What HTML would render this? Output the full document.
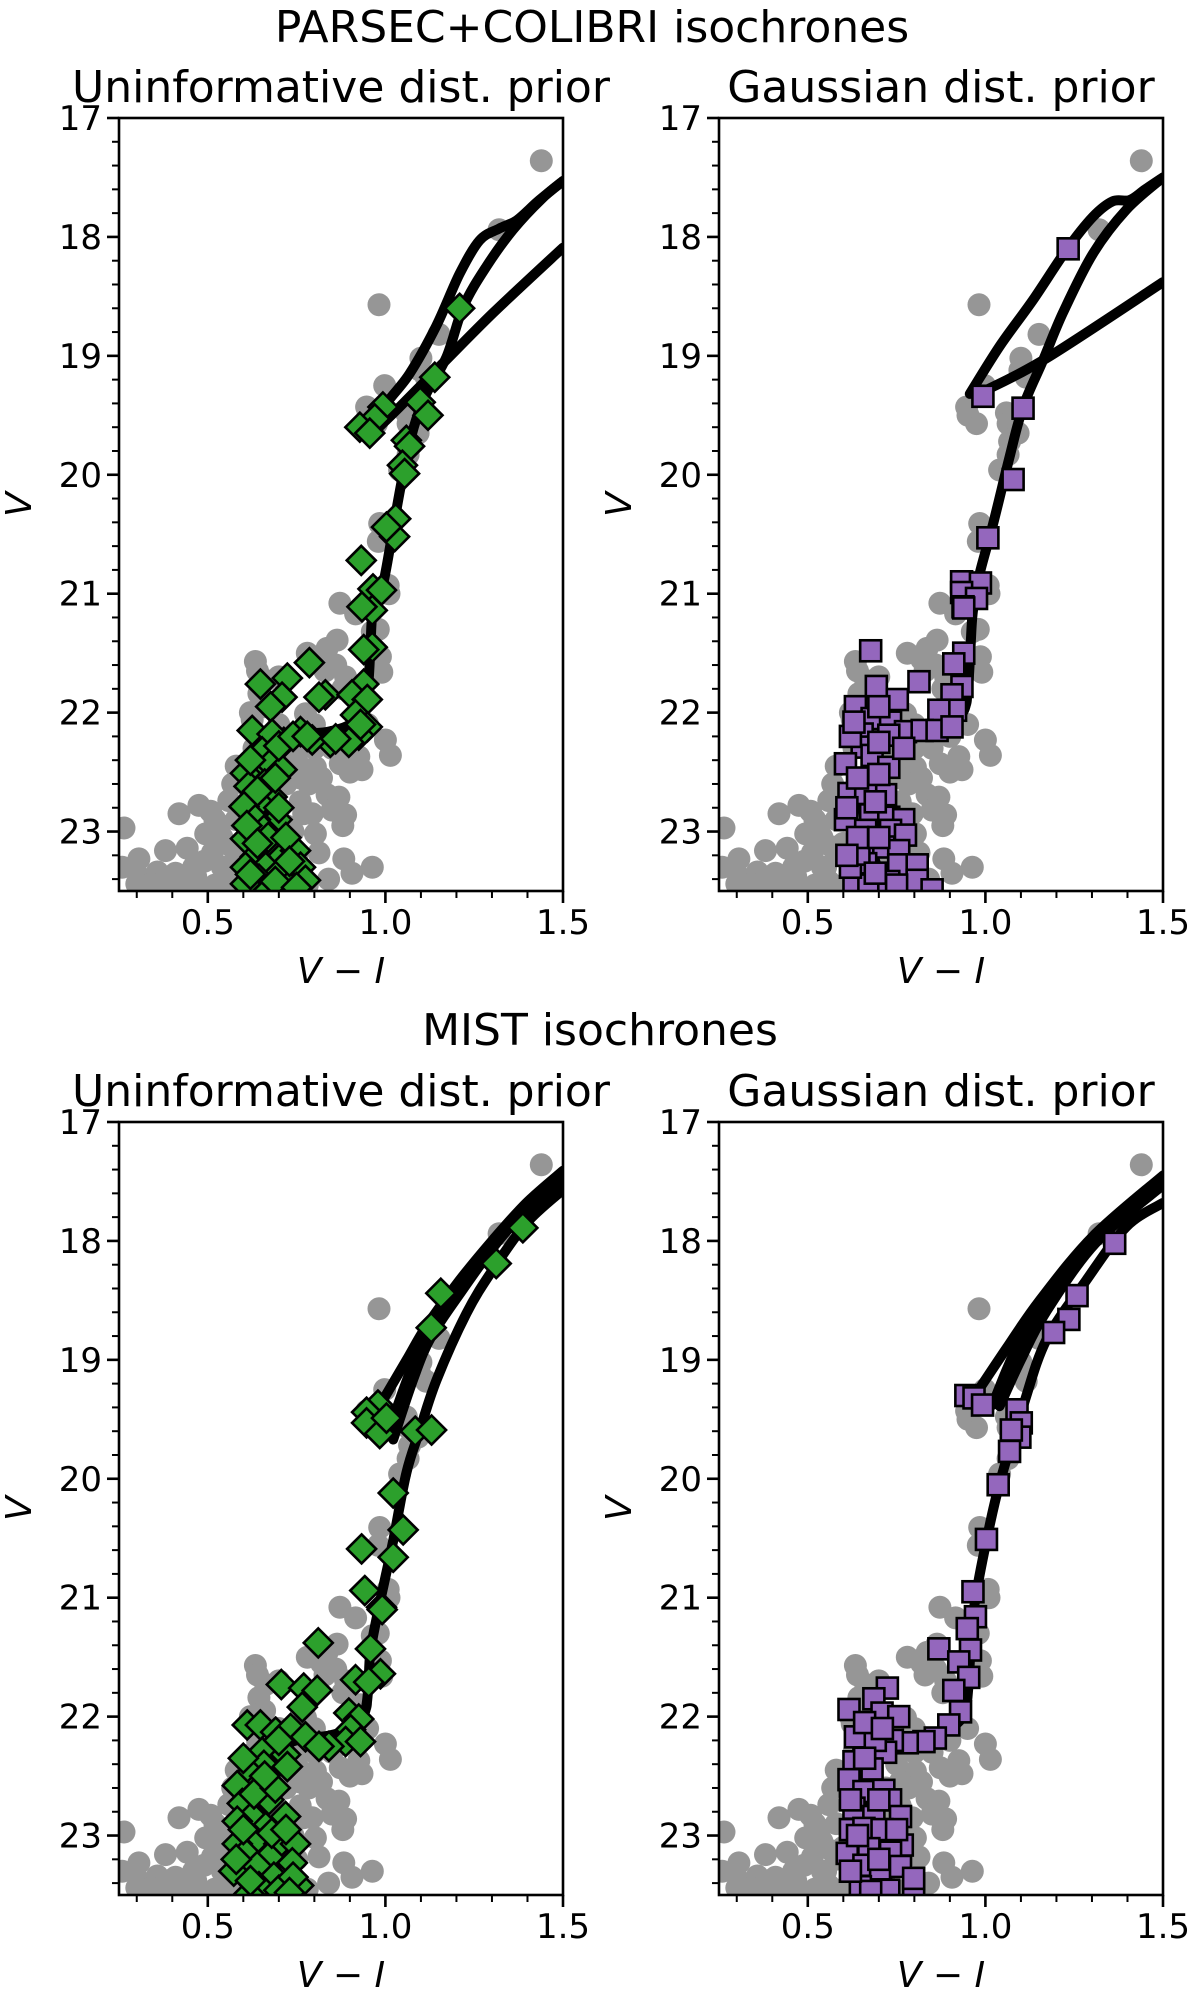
<!DOCTYPE html>
<html><head><meta charset="utf-8">
<style>
html,body{margin:0;padding:0;background:#fff;}
svg{display:block;font-family:"DejaVu Sans","Liberation Sans",sans-serif;}
</style></head>
<body>
<svg id="fig" width="1200" height="2005" viewBox="0 0 1200 2005" xmlns="http://www.w3.org/2000/svg">
<rect x="0" y="0" width="1200" height="2005" fill="#fff"/>
<text x="592" y="42" font-size="44" text-anchor="middle">PARSEC+COLIBRI isochrones</text>
<text x="600" y="1045" font-size="44" text-anchor="middle">MIST isochrones</text>
</svg>
<script>
// ---------- data ----------
const xTicks = [0.5, 1.0, 1.5];
const xTickLabels = ["0.5", "1.0", "1.5"];
const yTicks = [17, 18, 19, 20, 21, 22, 23];
const yTickLabels = ["17", "18", "19", "20", "21", "22", "23"];

const grayStars = [
 [1.439,17.36],[1.320,17.94],[0.982,18.57],[1.151,18.82],[1.10,19.02],[1.097,19.12],[1.115,19.18],[0.998,19.25],
 [0.951,19.50],[0.975,19.57],[0.947,19.43],[1.059,19.48],[1.064,19.57],[1.092,19.65],[1.068,19.72],[1.064,19.83],
 [1.04,19.96],[0.984,20.41],[0.98,20.56],[1.008,20.93],[0.872,21.08],[0.916,21.17],[0.864,21.39],[0.836,21.46],
 [0.963,21.32],[0.986,21.53],[0.634,21.57],[0.888,21.70],[0.663,21.73],[0.99,21.66],[0.644,21.84],[0.775,22.01],
 [0.625,22.06],[1.0,22.23],[1.014,22.36],[0.925,22.37],[0.873,22.43],[0.934,22.48],[0.803,22.46],[0.784,22.60],
 [0.836,22.69],[0.869,22.71],[0.888,22.86],[0.85,22.82],[0.559,22.74],[0.475,22.78],[0.419,22.85],[0.508,22.83],
 [0.494,23.02],[0.531,22.99],[0.513,23.18],[0.569,23.13],[0.264,22.97],[0.381,23.16],[0.442,23.14],[0.306,23.23],
 [0.259,23.30],[0.358,23.34],[0.306,23.38],[0.409,23.35],[0.466,23.38],[0.541,23.30],[0.559,23.42],[0.803,23.02],
 [0.813,23.18],[0.794,22.85],[0.883,23.23],[0.963,23.30],[0.906,23.35],[0.372,23.47],[0.484,23.47],[0.62,22.0],
 [0.66,21.95],[0.70,22.1],[0.63,22.3],[0.68,22.5],[0.72,22.6],[0.75,22.4],[0.62,22.7],[0.58,22.9],[0.70,22.8],
 [0.76,22.75],[0.60,23.1],[0.66,23.2],[0.72,23.3],[0.68,23.4],[0.78,23.45],[0.55,23.3],[0.52,23.45],[0.43,23.45],
 [0.40,23.42],[0.30,23.44],[0.60,23.45],[0.72,22.95],[0.74,23.0],[0.80,22.3],[0.85,22.3],[0.90,22.2],[0.95,22.1],
 [0.93,21.9],[0.88,21.8],[0.83,21.65],[0.78,21.5],[0.98,21.3],[1.01,21.0],[0.64,22.2],[0.57,22.6],[0.70,21.7],
 [0.74,22.3],[0.76,22.55],[0.54,23.05],[0.49,23.25],[0.62,23.3],[0.58,23.2],[0.82,21.55],[0.86,21.6],[0.80,22.1],
 [0.77,22.85],[0.75,23.2],[0.68,22.65],[0.52,22.9],[0.46,23.3],[0.34,23.44],[0.58,22.45],[0.82,22.55],[0.9,22.5],
 [0.88,22.95],[0.84,23.4],[0.7,23.1],[0.64,21.65]
];

const lowerTrack = [[0.958,21.45],[0.952,21.75],[0.94,21.98],[0.90,22.1],[0.84,22.16],[0.78,22.18],[0.73,22.22],
 [0.69,22.32],[0.665,22.5],[0.655,22.75],[0.665,23.0],[0.69,23.25],[0.72,23.55]];

const parsecUniMain = [[1.5,17.53],[1.44,17.68],[1.359,17.94],[1.284,18.25],[1.219,18.59],[1.172,19.01],[1.115,19.32],[1.08,19.6],[1.05,19.99],[1.026,20.38],[0.994,20.91],[0.965,21.14]];
const parsecUniLoop = [[0.956,19.65],[1.003,19.4],[1.068,19.15],[1.143,18.75],[1.209,18.31],[1.265,18.03],[1.32,17.93],[1.37,17.86],[1.43,17.7],[1.5,17.53]];
const parsecUniBranch = [[0.975,19.62],[1.04,19.43],[1.153,19.09],[1.303,18.64],[1.5,18.09]];

const parsecGauMain = [[1.5,17.5],[1.397,17.77],[1.303,18.14],[1.218,18.64],[1.162,19.04],[1.106,19.43],[1.068,19.85],[1.022,20.41],[0.984,20.83],[0.965,21.14]];
const parsecGauLoop = [[0.956,19.32],[1.04,18.92],[1.134,18.53],[1.228,18.11],[1.303,17.83],[1.359,17.70],[1.406,17.69],[1.45,17.6],[1.5,17.5]];
const parsecGauBranch = [[0.994,19.30],[1.172,19.02],[1.5,18.38]];

const mistUniMain = [[1.5,17.57],[1.397,17.85],[1.303,18.24],[1.228,18.61],[1.144,19.17],[1.097,19.59],[1.059,19.95],[1.022,20.52],[0.984,21.05]];
const mistUniA = [[0.995,19.33],[1.06,19.0],[1.115,18.72],[1.209,18.33],[1.303,17.99],[1.397,17.68],[1.5,17.41]];
const mistUniB = [[1.015,19.55],[1.07,19.1],[1.125,18.75],[1.215,18.36],[1.31,18.0],[1.4,17.7],[1.5,17.44]];
const mistUniC = [[1.022,19.67],[1.08,19.15],[1.13,18.80],[1.22,18.4],[1.31,18.03],[1.4,17.73],[1.5,17.47]];

const mistGauMain = [[1.5,17.68],[1.397,17.88],[1.284,18.33],[1.172,18.83],[1.106,19.39],[1.04,20.04],[1.003,20.52],[0.97,21.05]];
const mistGauA = [[0.975,19.28],[1.06,18.9],[1.153,18.5],[1.303,17.96],[1.5,17.45]];
const mistGauB = [[1.02,19.38],[1.08,18.95],[1.16,18.53],[1.305,17.98],[1.5,17.5]];
const mistGauC = [[1.04,19.39],[1.10,19.0],[1.17,18.6],[1.31,18.02],[1.5,17.53]];

const greenParsec = [
 [1.209,18.60],[1.139,19.18],[1.098,19.39],[1.12,19.50],[0.993,19.43],[0.97,19.53],[0.928,19.60],[0.956,19.65],
 [1.059,19.71],[1.068,19.76],[1.048,19.92],[1.054,19.99],[1.029,20.37],[1.026,20.52],[1.003,20.44],[0.932,20.72],
 [0.965,20.96],[0.989,20.97],[0.963,21.14],[0.934,21.11],[0.963,21.45],[0.939,21.47],[0.786,21.58],[0.939,21.76],
 [0.648,21.76],[0.724,21.71],[0.831,21.85],[0.813,21.87],[0.906,21.85],[0.709,21.87],[0.677,21.95],[0.949,21.89],
 [0.916,22.02],[0.949,22.12],[0.625,22.15],[0.925,22.19],[0.897,22.25],[0.845,22.25],[0.794,22.23],[0.761,22.16],
 [0.714,22.25],[0.681,22.18],[0.653,22.33],[0.634,22.46],[0.677,22.43],[0.709,22.48],[0.606,22.51],[0.616,22.62],
 [0.681,22.71],[0.644,22.76],[0.602,22.79],[0.695,22.90],[0.634,22.90],[0.658,22.99],[0.606,23.06],[0.677,23.13],
 [0.709,23.21],[0.747,23.16],[0.634,23.21],[0.663,23.30],[0.606,23.30],[0.761,23.30],[0.70,23.35],[0.644,23.40],
 [0.775,23.41],[0.728,23.46],[0.606,23.44],[0.672,23.49],[0.70,22.28],[0.74,22.2],[0.66,22.6],[0.62,22.4],
 [0.69,22.55],[0.64,22.66],[0.70,22.8],[0.61,22.95],[0.67,23.05],[0.72,23.05],[0.64,23.1],[0.73,23.25],
 [0.69,23.42],[0.75,23.47],[0.62,23.36],[0.86,22.22],[0.78,22.2],[0.93,22.1]
];
const purpleParsec = [
 [1.233,18.10],[0.993,19.34],[1.106,19.44],[1.078,20.04],[1.007,20.53],[0.933,20.90],[0.986,20.91],[0.933,20.99],
 [0.975,21.04],[0.937,21.11],[0.939,21.12],[0.939,21.50],[0.911,21.59],[0.677,21.48],[0.813,21.74],[0.934,21.78],
 [0.906,21.85],[0.693,21.78],[0.752,21.89],[0.634,21.95],[0.916,21.98],[0.869,21.98],[0.681,22.05],[0.733,22.08],
 [0.775,22.16],[0.822,22.15],[0.864,22.15],[0.906,22.12],[0.653,22.18],[0.728,22.19],[0.653,22.29],[0.606,22.43],
 [0.681,22.36],[0.728,22.46],[0.672,22.57],[0.616,22.68],[0.719,22.69],[0.663,22.68],[0.606,22.9],[0.677,22.86],
 [0.728,22.88],[0.77,22.9],[0.663,22.99],[0.733,22.99],[0.775,23.03],[0.663,23.13],[0.714,23.13],[0.756,23.16],
 [0.663,23.27],[0.756,23.28],[0.808,23.28],[0.63,23.44],[0.672,23.45],[0.728,23.42],[0.808,23.41],[0.85,23.49],
 [0.62,23.30],[0.644,23.19],[0.70,22.25],[0.62,22.2],[0.64,22.55],[0.70,22.52],[0.61,22.8],[0.69,22.75],
 [0.64,23.05],[0.70,23.05],[0.61,23.2],[0.69,23.35],[0.75,23.45],[0.63,22.08],[0.70,21.95],[0.77,22.3]
];
const greenMist = [
 [1.387,17.89],[1.312,18.19],[1.156,18.44],[1.129,18.73],[0.979,19.38],[0.947,19.44],[0.947,19.53],[0.984,19.62],
 [1.003,19.49],[1.084,19.60],[1.13,19.59],[1.022,20.12],[1.05,20.43],[0.933,20.59],[1.022,20.66],[0.942,20.94],
 [0.989,21.08],[0.991,21.10],[0.811,21.38],[0.958,21.43],[0.986,21.64],[0.916,21.69],[0.953,21.71],[0.707,21.73],
 [0.77,21.76],[0.808,21.78],[0.766,21.92],[0.897,21.97],[0.925,22.02],[0.611,22.07],[0.648,22.07],[0.691,22.13],
 [0.733,22.10],[0.775,22.17],[0.902,22.11],[0.888,22.21],[0.93,22.21],[0.841,22.25],[0.813,22.25],[0.686,22.25],
 [0.653,22.30],[0.719,22.32],[0.658,22.41],[0.724,22.42],[0.62,22.48],[0.648,22.56],[0.583,22.58],[0.672,22.70],
 [0.597,22.73],[0.719,22.84],[0.625,22.84],[0.583,22.88],[0.663,22.93],[0.634,23.04],[0.70,23.07],[0.747,23.07],
 [0.583,23.07],[0.606,23.15],[0.672,23.18],[0.738,23.23],[0.573,23.30],[0.639,23.26],[0.686,23.35],[0.756,23.42],
 [0.644,23.43],[0.616,23.49],[0.70,23.46],[0.63,22.65],[0.69,22.6],[0.60,22.95],[0.68,22.98],[0.72,22.95],
 [0.62,23.38],[0.74,23.35],[0.66,22.5],[0.70,22.2],[0.60,22.35],[0.58,23.2],[0.73,23.48]
];
const purpleMist = [
 [1.364,18.02],[1.258,18.46],[1.235,18.66],[1.192,18.77],[0.945,19.30],[0.968,19.32],[0.992,19.38],[1.089,19.42],
 [1.101,19.53],[1.097,19.65],[1.068,19.77],[1.073,19.59],[1.036,20.05],[1.003,20.51],[0.965,20.95],[0.972,21.16],
 [0.949,21.26],[0.958,21.44],[0.869,21.43],[0.925,21.54],[0.953,21.67],[0.911,21.78],[0.724,21.76],[0.686,21.85],
 [0.616,21.94],[0.709,21.97],[0.756,22.00],[0.93,21.96],[0.897,22.07],[0.859,22.18],[0.827,22.21],[0.78,22.22],
 [0.738,22.20],[0.658,22.21],[0.634,22.17],[0.719,22.30],[0.63,22.38],[0.681,22.44],[0.616,22.53],[0.658,22.63],
 [0.714,22.62],[0.733,22.70],[0.63,22.77],[0.686,22.84],[0.761,22.84],[0.62,22.95],[0.658,22.94],[0.709,22.95],
 [0.766,23.08],[0.672,23.11],[0.611,23.15],[0.733,23.14],[0.658,23.25],[0.705,23.28],[0.761,23.26],[0.648,23.43],
 [0.728,23.46],[0.798,23.42],[0.798,23.36],[0.677,23.47],[0.69,22.2],[0.66,22.35],[0.62,22.7],[0.70,22.7],
 [0.64,23.0],[0.70,23.2],[0.62,23.3],[0.75,22.95],[0.66,22.05],[0.71,22.1]
];

// ---------- drawing ----------
const NS = "http://www.w3.org/2000/svg";
const svg = document.getElementById("fig");
const PW = 444, PH = 773, X0 = 0.25, X1 = 1.5, Y0 = 17, Y1 = 23.5;

function mk(tag, attrs, parent) {
  const e = document.createElementNS(NS, tag);
  for (const k in attrs) e.setAttribute(k, attrs[k]);
  (parent || svg).appendChild(e);
  return e;
}

function smoothPath(pts) {
  if (pts.length < 2) return "";
  let d = "M" + pts[0][0].toFixed(1) + "," + pts[0][1].toFixed(1);
  for (let i = 0; i < pts.length - 1; i++) {
    const p0 = pts[i - 1] || pts[i], p1 = pts[i], p2 = pts[i + 1], p3 = pts[i + 2] || p2;
    const c1x = p1[0] + (p2[0] - p0[0]) / 6, c1y = p1[1] + (p2[1] - p0[1]) / 6;
    const c2x = p2[0] - (p3[0] - p1[0]) / 6, c2y = p2[1] - (p3[1] - p1[1]) / 6;
    d += "C" + c1x.toFixed(1) + "," + c1y.toFixed(1) + " " + c2x.toFixed(1) + "," + c2y.toFixed(1) + " " + p2[0].toFixed(1) + "," + p2[1].toFixed(1);
  }
  return d;
}

function panel(ox, oy, title, lines, markers, markerType, panelName) {
  const sx = v => ox + (v - X0) / (X1 - X0) * PW;
  const sy = v => oy + (v - Y0) / (Y1 - Y0) * PH;
  const g = mk("g", {});
  
  
  const cid = panelName + "-clip";
  const cp = mk("clipPath", {id: cid}, g);
  mk("rect", {x: ox, y: oy, width: PW, height: PH}, cp);
  const plot = mk("g", {"clip-path": "url(#" + cid + ")"}, g);

  const gs = mk("g", {fill: "#969696"}, plot);
  
  
  grayStars.forEach(p => {
    const c = mk("circle", {cx: sx(p[0]).toFixed(1), cy: sy(p[1]).toFixed(1), r: 11.5}, gs);
    
    
  });

  lines.forEach(ln => {
    const pts = ln.map(p => [sx(p[0]), sy(p[1])]);
    const path = mk("path", {d: smoothPath(pts), fill: "none", stroke: "#000", "stroke-width": 10, "stroke-linecap": "round", "stroke-linejoin": "round"}, plot);
    
    
  });

  const gm = mk("g", {}, plot);
  
  
  markers.forEach(p => {
    const x = sx(p[0]), y = sy(p[1]);
    let m;
    if (markerType === "diamond") {
      const r = 14.5;
      m = mk("polygon", {points: `${x},${y - r} ${x + r},${y} ${x},${y + r} ${x - r},${y}`, fill: "#2ca02c", stroke: "#000", "stroke-width": 2.6, "stroke-linejoin": "miter"}, gm);
      
    } else {
      const h = 10.5;
      m = mk("rect", {x: x - h, y: y - h, width: 2 * h, height: 2 * h, fill: "#9467bd", stroke: "#000", "stroke-width": 2.6}, gm);
      
    }
    
  });

  const frame = mk("rect", {x: ox, y: oy, width: PW, height: PH, fill: "none", stroke: "#000", "stroke-width": 2.6}, g);
  
  

  for (let v = 17.2; v < 23.5; v += 0.2) {
    if (Math.abs(v - Math.round(v)) < 0.01) continue;
    const t = mk("line", {x1: ox, x2: ox - 7, y1: sy(v), y2: sy(v), stroke: "#000", "stroke-width": 2}, g);
    
    
  }
  yTicks.forEach((v, i) => {
    const t = mk("line", {x1: ox, x2: ox - 12, y1: sy(v), y2: sy(v), stroke: "#000", "stroke-width": 2.6}, g);
    
    
    const lb = mk("text", {x: ox - 17, y: sy(v) + 12, "font-size": 34, "text-anchor": "end"}, g);
    lb.textContent = yTickLabels[i];
    
    
  });
  for (let v = 0.3; v < 1.5; v += 0.1) {
    if (Math.abs(v * 2 - Math.round(v * 2)) < 0.01) continue;
    const t = mk("line", {x1: sx(v), x2: sx(v), y1: oy + PH, y2: oy + PH + 7, stroke: "#000", "stroke-width": 2}, g);
    
    
  }
  xTicks.forEach((v, i) => {
    const t = mk("line", {x1: sx(v), x2: sx(v), y1: oy + PH, y2: oy + PH + 12, stroke: "#000", "stroke-width": 2.6}, g);
    
    
    const lb = mk("text", {x: sx(v), y: oy + PH + 43, "font-size": 34, "text-anchor": "middle"}, g);
    lb.textContent = xTickLabels[i];
    
    
  });

  const xl = mk("text", {x: ox + PW / 2, y: oy + PH + 92, "font-size": 36, "text-anchor": "middle", "font-style": "italic"}, g);
  xl.textContent = "V \u2212 I";
  
  

  const yl = mk("text", {x: 0, y: 0, "font-size": 36, "text-anchor": "middle", "font-style": "italic", transform: `translate(${ox - 88},${oy + PH / 2}) rotate(-90)`}, g);
  yl.textContent = "V";
  
  

  const tt = mk("text", {x: ox + PW / 2, y: oy - 16, "font-size": 44, "text-anchor": "middle"}, g);
  tt.textContent = title;
  
  
}

const withLower = a => a.concat(lowerTrack);
panel(119, 118, "Uninformative dist. prior", [withLower(parsecUniMain), parsecUniLoop, parsecUniBranch], greenParsec, "diamond", "panel-parsec-uninformative");
panel(719, 118, "Gaussian dist. prior", [withLower(parsecGauMain), parsecGauLoop, parsecGauBranch], purpleParsec, "square", "panel-parsec-gaussian");
panel(119, 1122, "Uninformative dist. prior", [withLower(mistUniMain), mistUniA, mistUniB, mistUniC], greenMist, "diamond", "panel-mist-uninformative");
panel(719, 1122, "Gaussian dist. prior", [withLower(mistGauMain), mistGauA, mistGauB, mistGauC], purpleMist, "square", "panel-mist-gaussian");
</script>
</body></html>
